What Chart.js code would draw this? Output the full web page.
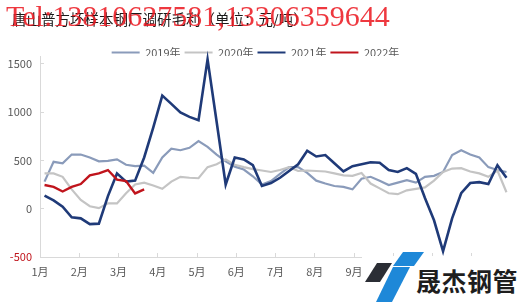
<!DOCTYPE html>
<html>
<head>
<meta charset="utf-8">
<script src="https://cdn.jsdelivr.net/npm/chart.js@4.4.0/dist/chart.umd.min.js"></script>
<style>
html,body{margin:0;padding:0;background:#fff;}
#wrap{position:relative;width:528px;height:303px;overflow:hidden;background:#fff;font-family:"Noto Sans CJK SC","Noto Sans",sans-serif;}
#c{position:absolute;left:0;top:0;}
#title{position:absolute;left:12px;top:8px;font-size:14.5px;line-height:22px;color:#1a1a1a;white-space:nowrap;}
#wm{position:absolute;left:6px;top:1px;font-family:"Liberation Serif",serif;font-size:30px;line-height:30px;color:rgba(236,28,36,0.88);white-space:nowrap;}
#logoBg{position:absolute;left:362px;top:256px;width:166px;height:47px;background:#fff;}
.shp{position:absolute;}
#logoTxt{position:absolute;left:416px;top:268px;font-size:25px;line-height:25px;font-weight:700;color:#1e1e1e;white-space:nowrap;letter-spacing:0.5px;}
</style>
</head>
<body>
<div id="wrap">
  <canvas id="c" width="528" height="303"></canvas>
  <div id="title">唐山普方坯样本钢厂调研毛利（单位：元/吨）</div>
  <div id="wm">Tel:13810627581,13306359644</div>
  <div id="logoBg"></div>
  <div class="shp" style="left:365px;top:263px;width:27px;height:19px;background:#2b2e35;clip-path:polygon(12px 0,27px 0,15px 19px,0 19px);"></div>
  <div class="shp" style="left:393px;top:252px;width:31px;height:14px;background:#1e88d8;clip-path:polygon(10px 0,31px 0,21px 14px,0 14px);"></div>
  <div class="shp" style="left:376px;top:267px;width:34px;height:35px;background:#1e88d8;clip-path:polygon(17px 0,34px 0,16px 35px,0 35px);"></div>
  <div id="logoTxt">晟杰钢管</div>
</div>
<script>
const monthLabels = ['1月','2月','3月','4月','5月','6月','7月','8月','9月','10月','11月','12月'];
const yTickValues = [-500, 0, 500, 1000, 1500];
const seriesNames = ['2019年','2020年','2021年','2022年'];

const v2019 = [280,485,470,560,560,530,490,495,510,455,440,445,370,530,620,605,630,700,640,560,490,435,405,335,250,285,360,430,430,370,290,260,235,225,200,310,330,290,245,270,295,270,330,340,380,555,605,560,530,430,400,380];
const v2020 = [365,365,330,200,90,25,5,55,55,160,250,270,240,205,280,330,320,315,430,460,510,455,430,410,395,380,400,430,390,395,390,385,365,345,340,370,260,210,160,150,190,205,220,290,380,415,420,385,365,330,395,170];
const v2021 = [135,85,20,-90,-100,-160,-155,130,365,280,290,530,840,1170,1085,995,950,915,1545,900,250,530,510,450,235,265,320,390,460,600,540,555,470,385,440,460,480,475,400,380,420,360,110,-120,-440,-100,160,265,275,255,450,320];
const v2022 = [245,225,178,225,255,345,365,400,300,285,158,200];

const WEEKS = 52;
const toPoints = arr => arr.map((v, i) => ({x: i + 1, y: v}));

const colors = ['#8A9BBA', '#C4C4C4', '#1F3A78', '#C0141C'];
const widths = [2.2, 2.2, 2.6, 2.4];
const orders = [4, 3, 2, 1];
const allSeries = [v2019, v2020, v2021, v2022];

const datasets = allSeries.map((arr, k) => ({
  label: seriesNames[k],
  data: toPoints(arr),
  borderColor: colors[k],
  backgroundColor: colors[k],
  borderWidth: widths[k],
  pointRadius: 0,
  tension: 0,
  order: orders[k],
  clip: false
}));

const xMin = 0.5, xMax = WEEKS + 0.5;

new Chart(document.getElementById('c'), {
  type: 'line',
  data: { datasets },
  options: {
    responsive: false,
    animation: false,
    devicePixelRatio: 1,
    layout: { padding: { top: 43, right: 17, left: 0, bottom: 0 } },
    plugins: {
      legend: {
        position: 'top',
        maxHeight: 13,
        labels: {
          boxWidth: 28,
          boxHeight: 2,
          padding: 4,
          color: '#595959',
          font: { size: 11, family: '"Noto Sans CJK SC","Noto Sans",sans-serif' },
          sort: (a, b) => a.datasetIndex - b.datasetIndex,
          generateLabels(chart) {
            const items = Chart.defaults.plugins.legend.labels.generateLabels(chart);
            items.forEach(it => { it.lineWidth = 0; it.fillStyle = it.strokeStyle; });
            return items;
          }
        }
      },
      tooltip: { enabled: false },
      title: { display: false }
    },
    scales: {
      x: {
        type: 'linear',
        min: xMin,
        max: xMax,
        afterBuildTicks(s) {
          s.ticks = monthLabels.map((_, m) => ({ value: xMin + m * WEEKS / 12 }));
        },
        afterFit(s) { s.height = 46; },
        border: { display: true, color: '#D9D9D9', width: 1 },
        grid: { drawOnChartArea: false, drawTicks: true, tickLength: -4, color: '#D9D9D9' },
        ticks: {
          autoSkip: false,
          maxRotation: 0,
          padding: 12,
          color: '#595959',
          font: { size: 11, family: '"Noto Sans CJK SC","Noto Sans",sans-serif' },
          callback: (v, i) => monthLabels[i]
        }
      },
      y: {
        min: -500,
        max: 1580,
        afterBuildTicks(s) { s.ticks = yTickValues.map(v => ({ value: v })); },
        afterFit(s) { s.width = 40; },
        border: { display: true, color: '#D9D9D9', width: 1 },
        grid: { drawOnChartArea: false, drawTicks: true, tickLength: -4, color: '#D9D9D9' },
        ticks: {
          padding: 12,
          color: ctx => (ctx.tick && ctx.tick.value < 0 ? '#C0141C' : '#595959'),
          font: { size: 11, family: '"Noto Sans CJK SC","Noto Sans",sans-serif' },
          callback: v => String(v)
        }
      }
    }
  }
});
</script>
</body>
</html>
